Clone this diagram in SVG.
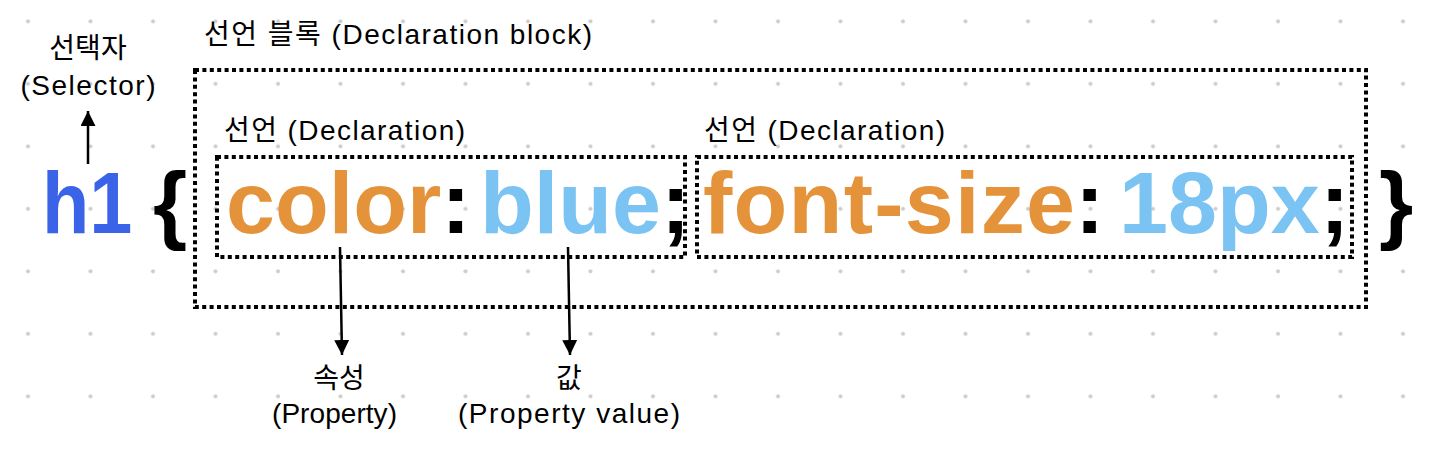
<svg xmlns="http://www.w3.org/2000/svg" width="1450" height="454" viewBox="0 0 1450 454">
<defs>
<pattern id="dots" x="0" y="0" width="62.5" height="62.5" patternUnits="userSpaceOnUse">
<circle cx="28" cy="21.3" r="2" fill="#cccccc"/>
</pattern>
<marker id="ah" markerUnits="userSpaceOnUse" markerWidth="16" markerHeight="16" refX="15" refY="7.5" orient="auto">
<path d="M0,0 L15,7.5 L0,15 z" fill="#000"/>
</marker>
</defs>
<style>
.lbl{font-family:"Liberation Sans","Noto Sans CJK KR",sans-serif;font-size:28px;fill:#000}
.code{font-family:"Liberation Sans",Arial,sans-serif;font-size:88px;font-weight:bold}
.box{fill:none;stroke:#000;stroke-width:4;stroke-dasharray:4 3.4}
.con{stroke:#000;stroke-width:2.5;fill:none}
.sel{fill:#3b63e8}.prop{fill:#e4933a}.val{fill:#7ac3f2}.pun{fill:#000}
</style>
<rect width="1450" height="454" fill="#ffffff"/>
<rect width="1450" height="454" fill="url(#dots)"/>

<g id="selector-label">
<text class="lbl" x="88" y="58" text-anchor="middle">선택자</text>
<text class="lbl" x="88" y="95" text-anchor="middle" textLength="135" lengthAdjust="spacing">(Selector)</text>
</g>

<g id="selector">
<text class="code sel" x="0" y="233" transform="matrix(0.88 0 0 1 42 0)">h1</text>
</g>

<g id="braces">
<text class="code pun" x="153" y="233">{</text>
<text class="code pun" x="1379" y="233">}</text>
</g>

<g id="declaration-block">
<rect class="box" x="195" y="70" width="1171" height="237"/>
<text class="lbl" x="204" y="44" textLength="388" lengthAdjust="spacing">선언 블록 (Declaration block)</text>
</g>

<g id="declaration-1">
<rect class="box" x="217" y="157" width="468" height="100"/>
<text class="lbl" x="224" y="140" textLength="241" lengthAdjust="spacing">선언 (Declaration)</text>
<text class="code" x="226" y="233"><tspan class="prop">color</tspan><tspan class="pun">:</tspan><tspan class="val" x="480">blue</tspan><tspan class="pun">;</tspan></text>
</g>

<g id="declaration-2">
<rect class="box" x="697" y="157" width="655" height="100"/>
<text class="lbl" x="704" y="140" textLength="241" lengthAdjust="spacing">선언 (Declaration)</text>
<text class="code" x="703" y="233"><tspan class="prop" textLength="372" lengthAdjust="spacing">font-size</tspan><tspan class="pun" x="1075">:</tspan><tspan class="val" x="1119">18px</tspan><tspan class="pun" x="1320">;</tspan></text>
</g>

<g id="property-label">
<text class="lbl" x="339" y="388" text-anchor="middle">속성</text>
<text class="lbl" x="334.5" y="423" text-anchor="middle" textLength="125" lengthAdjust="spacing">(Property)</text>
</g>

<g id="value-label">
<text class="lbl" x="569" y="388" text-anchor="middle">값</text>
<text class="lbl" x="569" y="423" text-anchor="middle" textLength="222" lengthAdjust="spacing">(Property value)</text>
</g>

<g id="connectors">
<line class="con" x1="88" y1="164" x2="88" y2="111" marker-end="url(#ah)"/>
<line class="con" x1="340" y1="247" x2="342" y2="355" marker-end="url(#ah)"/>
<line class="con" x1="568" y1="247" x2="570" y2="355" marker-end="url(#ah)"/>
</g>
</svg>
